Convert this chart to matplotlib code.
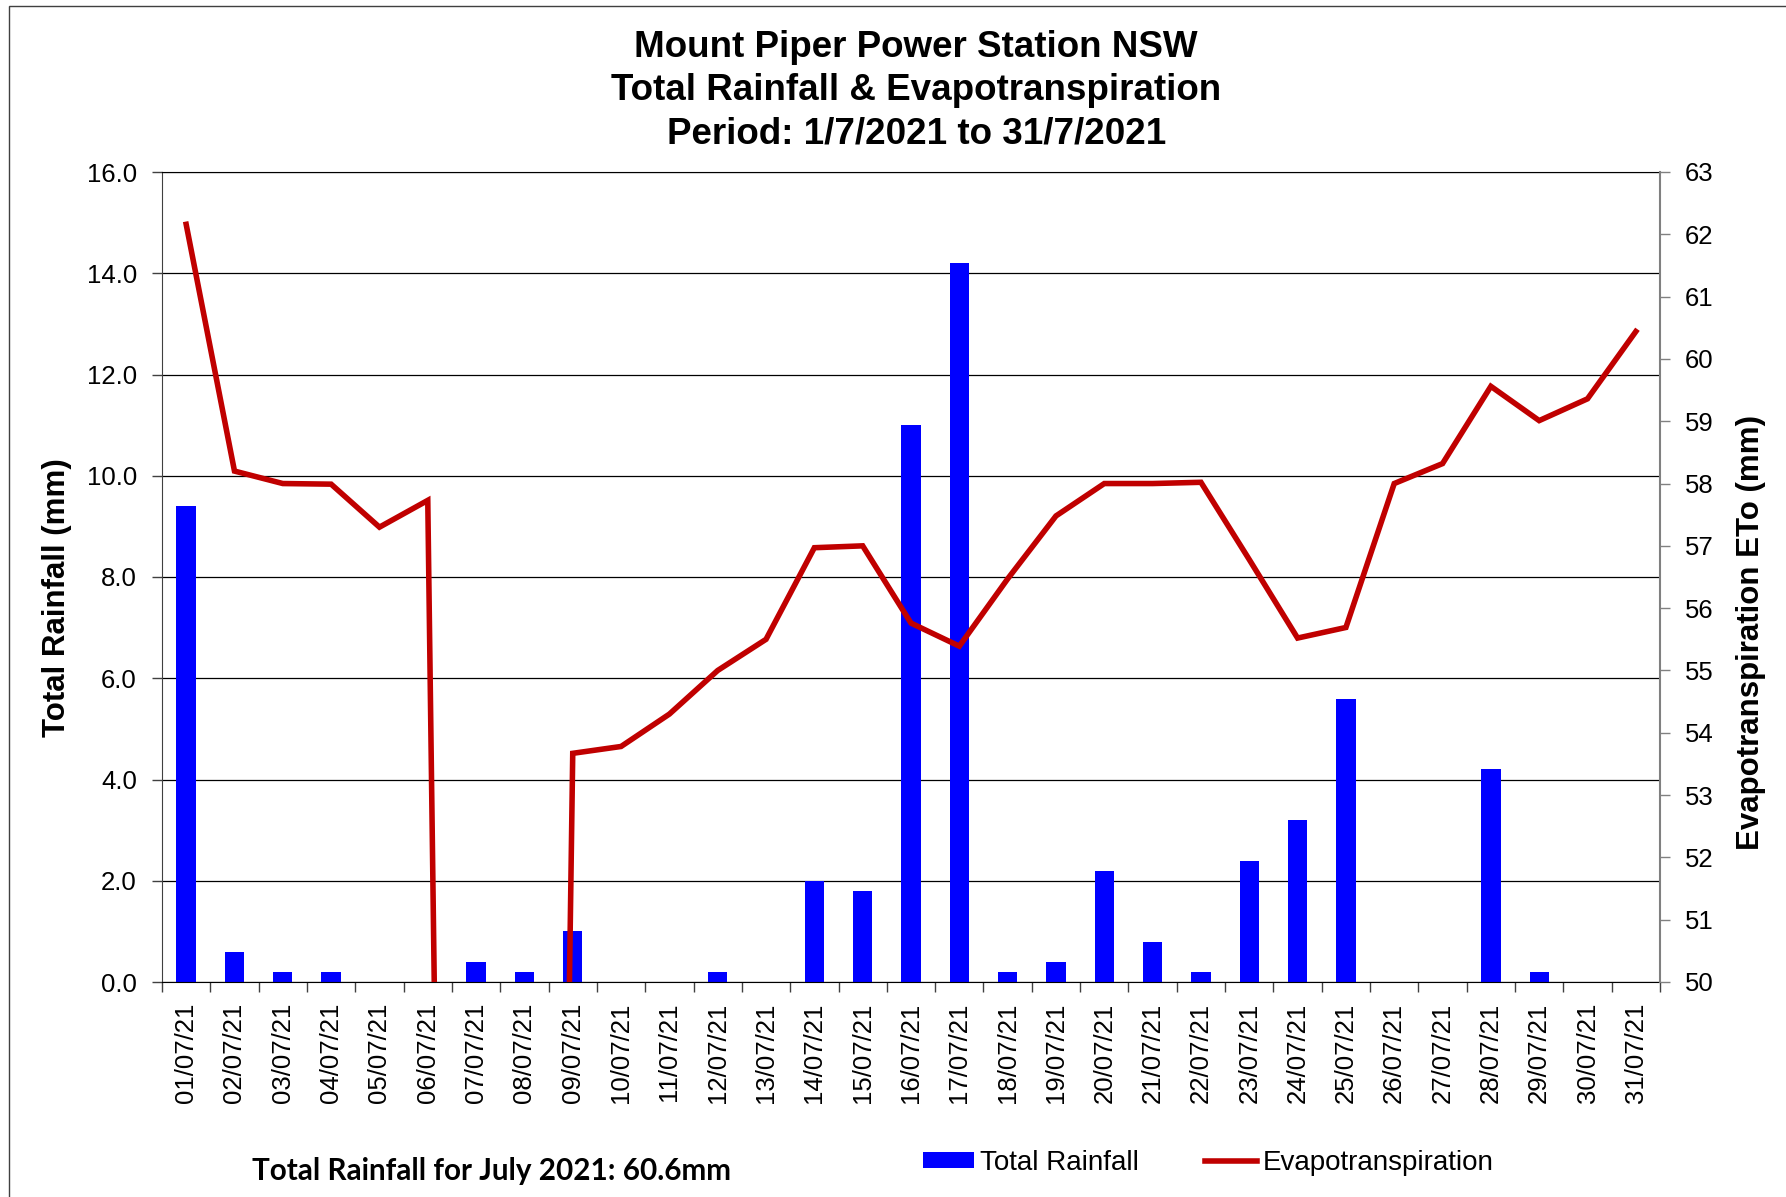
import matplotlib
matplotlib.use("Agg")
import matplotlib.pyplot as plt
from matplotlib.patches import Rectangle

# daily data, July 2021
dates = ["%02d/07/21" % d for d in range(1, 32)]

rainfall = [9.4, 0.6, 0.2, 0.2, 0.0, 0.0, 0.4, 0.2, 1.0, 0.0,
            0.0, 0.2, 0.0, 2.0, 1.8, 11.0, 14.2, 0.2, 0.4, 2.2,
            0.8, 0.2, 2.4, 3.2, 5.6, 0.0, 0.0, 4.2, 0.2, 0.0, 0.0]

evapo = [62.16, 58.2, 58.0, 57.99, 57.3, 57.73, 0.0, 0.0, 53.67, 53.78,
         54.3, 55.0, 55.5, 56.97, 57.0, 55.76, 55.39, 56.47, 57.48, 58.0,
         58.0, 58.02, 56.78, 55.52, 55.69, 58.0, 58.32, 59.56, 59.01, 59.36,
         60.44]

total_text = "Total Rainfall for July 2021: 60.6mm"

plt.rcParams['font.family'] = ['Liberation Sans', 'DejaVu Sans']

fig = plt.figure(figsize=(17.86, 11.97), dpi=100)
ax = fig.add_axes([162 / 1786, 1 - 982 / 1197, 1498 / 1786, 810 / 1197])
ax2 = ax.twinx()

x = list(range(len(dates)))

#Rainfall bars on the left axis
bars = ax.bar(x, rainfall, width=0.4, color="#0000FF", label="Total Rainfall", zorder=2)
ax.set_xlim(-0.5, len(dates) - 0.5)
ax.set_ylim(0, 16)
ax.set_yticks([i * 2.0 for i in range(9)])
ax.set_yticklabels(["%.1f" % (i * 2.0) for i in range(9)])
ax.yaxis.grid(True, color="black", linewidth=0.9)
ax.set_axisbelow(True)

ax.set_xticks(x)
ax.set_xticklabels(dates, rotation=90)
ax.set_xticks([i - 0.5 for i in range(len(dates) + 1)], minor=True)
ax.tick_params(axis="x", which="major", length=0, pad=15, labelsize=18.5)
ax.tick_params(axis="x", which="minor", length=7, width=1, direction="out", color="#404040")
ax.tick_params(axis="y", length=7, width=1, direction="out", pad=11, labelsize=18.5, color="#404040")

ax.spines["right"].set_visible(False)
ax.spines["left"].set_color("#404040")
ax.spines["top"].set_color("black")
ax.spines["bottom"].set_color("black")

#Evapotranspiration line on the right axis
line, = ax2.plot(x, evapo, color="#C00000", linewidth=4.0, label="Evapotranspiration",
                 solid_joinstyle="miter", zorder=3)
ax2.set_ylim(50, 63)
ax2.set_yticks(range(50, 64))
ax2.tick_params(axis="y", length=7, width=1, direction="out", pad=11, labelsize=18.5, color="#808080")
ax2.spines["right"].set_color("#808080")
ax2.spines["right"].set_linewidth(1.5)
for s in ["left", "top", "bottom"]:
    ax2.spines[s].set_visible(False)

#Titles and labels
fig.text(0.513, 1 - 91 / 1197, "Mount Piper Power Station NSW\nTotal Rainfall & Evapotranspiration\nPeriod: 1/7/2021 to 31/7/2021",
         ha="center", va="center", fontsize=26.5, fontweight="bold", linespacing=1.3)
fig.text(57 / 1786, 1 - 598 / 1197, "Total Rainfall (mm)", rotation=90,
         ha="center", va="center", fontsize=22.5, fontweight="bold")
fig.text(1751 / 1786, 1 - 632 / 1197, "Evapotranspiration ETo (mm)", rotation=90,
         ha="center", va="center", fontsize=22.5, fontweight="bold")

fig.text(491 / 1786, 1 - 1180 / 1197, total_text, ha="center", va="baseline",
         fontsize=21.3, fontweight="bold", family=["Lato", "DejaVu Sans"])

fig.legend([bars, line], ["Total Rainfall", "Evapotranspiration"], loc="center",
           bbox_to_anchor=(1208 / 1786, 1 - 1163 / 1197), ncol=2, frameon=False,
           fontsize=20, handlelength=1.85, handleheight=0.5, handletextpad=0.2,
           columnspacing=2.4)

#thin frame around the chart area
fig.patches.append(Rectangle((9 / 1786, -0.1), 1.2, 1 - 6 / 1197 + 0.1, transform=fig.transFigure,
                             fill=False, edgecolor="#404040", linewidth=1))

fig.savefig("out.png", dpi=100)
